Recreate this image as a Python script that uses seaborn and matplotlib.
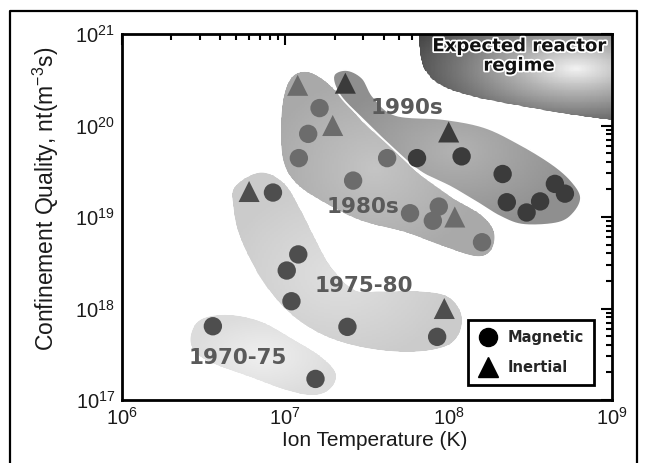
import numpy as np
import pandas as pd
import matplotlib
matplotlib.use("Agg")
import matplotlib.pyplot as plt
import seaborn as sns
from matplotlib.lines import Line2D
from matplotlib.patches import Polygon
from matplotlib.colors import LinearSegmentedColormap
import matplotlib.patheffects as pe
from matplotlib import font_manager

# data
era = (["1970-75"] * 2 + ["1975-80"] * 8 + ["1980s"] * 12 + ["1990s"] * 10)
kind = ["Magnetic", "Magnetic",
        "Inertial", "Magnetic", "Magnetic", "Magnetic", "Magnetic", "Magnetic", "Magnetic", "Inertial",
        "Inertial", "Magnetic", "Magnetic", "Inertial", "Magnetic", "Magnetic", "Magnetic", "Magnetic",
        "Magnetic", "Magnetic", "Inertial", "Magnetic",
        "Inertial", "Magnetic", "Magnetic", "Inertial", "Magnetic", "Magnetic", "Magnetic", "Magnetic",
        "Magnetic", "Magnetic"]
temp = [3.6e6, 1.53e7,
        6.0e6, 8.4e6, 1.2e7, 1.02e7, 1.09e7, 2.4e7, 8.5e7, 9.4e7,
        1.19e7, 1.62e7, 1.38e7, 1.95e7, 1.21e7, 2.6e7, 4.2e7, 5.8e7, 8.0e7, 8.7e7, 1.09e8, 1.6e8,
        2.33e7, 6.4e7, 1.2e8, 1.0e8, 2.14e8, 2.27e8, 3.0e8, 3.63e8, 4.47e8, 5.15e8]
ntau = [6.4e17, 1.7e17,
        1.9e19, 1.85e19, 3.9e18, 2.6e18, 1.2e18, 6.3e17, 4.9e17, 1.0e18,
        2.75e20, 1.55e20, 8.1e19, 1.0e20, 4.4e19, 2.5e19, 4.4e19, 1.1e19, 9.1e18, 1.3e19, 1.0e19, 5.3e18,
        2.9e20, 4.4e19, 4.6e19, 8.5e19, 2.95e19, 1.45e19, 1.12e19, 1.48e19, 2.3e19, 1.8e19]

# shaded era regions, outlines in log10 units (T, n*tau)
blob_u = {
    "1970-75": [6.421, 6.479, 6.642, 6.847, 7.051, 7.215, 7.307, 7.276, 7.174, 7.010, 6.785, 6.560, 6.448],
    "1975-80": [6.693, 6.847, 6.990, 7.092, 7.174, 7.276, 7.419, 7.583, 7.828, 7.992, 8.074, 8.063, 7.971,
                7.747, 7.460, 7.215, 7.010, 6.847, 6.724, 6.683],
    "1980s": [6.994, 7.043, 7.123, 7.215, 7.319, 7.479, 7.644, 7.810, 8.012, 8.196, 8.276, 8.258, 8.166,
              7.951, 7.736, 7.460, 7.215, 7.061, 6.988, 6.975],
    "1990s": [7.294, 7.374, 7.472, 7.540, 7.675, 7.969, 8.215, 8.423, 8.626, 8.748, 8.810, 8.767, 8.669,
              8.460, 8.319, 8.178, 8.012, 7.828, 7.656, 7.491, 7.337],
}
blob_v = {
    "1970-75": [17.692, 17.874, 17.929, 17.856, 17.656, 17.473, 17.292, 17.128, 17.055, 17.109, 17.255,
                17.401, 17.528],
    "1975-80": [19.331, 19.484, 19.368, 19.077, 18.785, 18.457, 18.202, 18.184, 18.184, 18.129, 17.948,
                17.729, 17.583, 17.528, 17.583, 17.729, 17.984, 18.348, 18.785, 19.113],
    "1980s": [20.333, 20.530, 20.585, 20.519, 20.355, 20.027, 19.765, 19.481, 19.219, 19.022, 18.836,
              18.639, 18.574, 18.694, 18.836, 18.967, 19.186, 19.383, 19.623, 20.005],
    "1990s": [20.541, 20.607, 20.519, 20.311, 20.115, 20.071, 19.984, 19.809, 19.590, 19.404, 19.219,
              19.044, 18.934, 18.913, 19.000, 19.153, 19.328, 19.492, 19.754, 20.038, 20.322],
}
blob_inner = {"1970-75": "#efefef", "1975-80": "#e0e0e0", "1980s": "#c4c4c4", "1990s": "#b2b2b2"}
blob_outer = {"1970-75": "#dcdcdc", "1975-80": "#cbcbcb", "1980s": "#a9a9a9", "1990s": "#8f8f8f"}
point_color = {"1970-75": "#4e4e4e", "1975-80": "#4e4e4e", "1980s": "#6c6c6c", "1990s": "#3b3b3b"}

reactor_u = [7.816, 7.818, 7.828, 7.869, 7.971, 8.155, 8.462, 8.769, 9.006, 9.117, 9.117]
reactor_v = [21.153, 21.008, 20.752, 20.570, 20.424, 20.315, 20.206, 20.115, 20.060, 20.049, 21.153]

label_text = ["1990s", "1980s", "1975-80", "1970-75"]
label_x = [5.52e7, 2.97e7, 3.01e7, 5.08e6]
label_y = [1.55e20, 1.29e19, 1.76e18, 2.88e17]


def smooth_closed(u, v, n=24):
    p = np.column_stack([u, v])
    m = len(p)
    t = np.linspace(0, 1, n, endpoint=False)[:, None]
    out = []
    for i in range(m):
        p0, p1, p2, p3 = p[i - 1], p[i], p[(i + 1) % m], p[(i + 2) % m]
        out.append(0.5 * (2 * p1 + (-p0 + p2) * t + (2 * p0 - 5 * p1 + 4 * p2 - p3) * t ** 2
                          + (-p0 + 3 * p1 - 3 * p2 + p3) * t ** 3))
    out = np.vstack(out)
    return out[:, 0], out[:, 1]


df = pd.DataFrame({"T": temp, "nt": ntau, "era": era, "kind": kind})

sns.set_theme(style="white")
names = {f.name for f in font_manager.fontManager.ttflist}
main_font = "Liberation Sans" if "Liberation Sans" in names else "DejaVu Sans"
plt.rcParams["font.family"] = [main_font, "DejaVu Sans"]
plt.rcParams["mathtext.fontset"] = "custom"
plt.rcParams["mathtext.rm"] = main_font

fig = plt.figure(figsize=(6.47, 4.63), dpi=100)
ax = fig.add_axes([122 / 647, 1 - 400 / 463, 490 / 647, 366 / 463])
ax.set_xscale("log")
ax.set_yscale("log")
ax.set_xlim(1e6, 1e9)
ax.set_ylim(1e17, 1e21)

# era regions with a soft shading toward the middle
for i, name in enumerate(["1970-75", "1975-80", "1980s", "1990s"]):
    su, sv = smooth_closed(blob_u[name], blob_v[name])
    z = 1 + 0.1 * i
    poly = Polygon(np.column_stack([10 ** su, 10 ** sv]), closed=True, facecolor=blob_outer[name],
                   edgecolor="none", zorder=z, transform=ax.transData)
    ax.add_patch(poly)
    uc, vc = np.mean(su), np.mean(sv)
    hu, hv = np.ptp(su) / 2, np.ptp(sv) / 2
    U, V = np.meshgrid(np.linspace(su.min(), su.max(), 120), np.linspace(sv.min(), sv.max(), 120))
    d = np.clip(np.sqrt(((U - uc) / hu) ** 2 + ((V - vc) / hv) ** 2), 0, 1)
    cm = LinearSegmentedColormap.from_list(name, [blob_inner[name], blob_outer[name]])
    m = ax.pcolormesh(10 ** U, 10 ** V, d, cmap=cm, vmin=0, vmax=1, shading="auto", zorder=z)
    m.set_clip_path(poly)
    if name == "1990s":
        ax.plot(10 ** np.append(su, su[0]), 10 ** np.append(sv, sv[0]), color="white", lw=1.3,
                zorder=z + 0.01)

# reactor regime with a shaded gradient
ru, rv = smooth_closed(reactor_u, reactor_v, n=16)
clip = Polygon(np.column_stack([10 ** ru, 10 ** rv]), closed=True, facecolor="none", edgecolor="none",
               transform=ax.transData)
ax.add_patch(clip)
U, V = np.meshgrid(np.linspace(7.7, 9.2, 200), np.linspace(19.9, 21.3, 150))
d = np.sqrt(((U - 8.78) * 163 / 80) ** 2 + ((V - 20.62) * 91.5 / 32) ** 2)
cmap = LinearSegmentedColormap.from_list("reg", ["#f2f2f2", "#b0b0b0", "#777777", "#444444"])
mesh = ax.pcolormesh(10 ** U, 10 ** V, np.clip(d, 0, 2.2), cmap=cmap, vmin=0, vmax=2.2,
                     shading="auto", zorder=1)
mesh.set_clip_path(clip)

sns.scatterplot(data=df, x="T", y="nt", hue="era", style="kind", size="kind",
                markers={"Magnetic": "o", "Inertial": "^"},
                sizes={"Magnetic": 175, "Inertial": 230},
                palette=point_color, linewidth=0, legend=False, ax=ax, zorder=3)

for t, x, y in zip(label_text, label_x, label_y):
    ax.text(x, y, t, ha="center", va="center", fontsize=15.5, fontweight="bold",
            family="DejaVu Sans", color="#5a5a5a", zorder=4)

ax.text(2.69e8, 5.75e20, "Expected reactor\nregime", ha="center", va="center", fontsize=13,
        fontweight="bold", family="DejaVu Sans", color="#111111", linespacing=1.1, zorder=4,
        path_effects=[pe.withStroke(linewidth=2.5, foreground="white")])

ax.set_xlabel("Ion Temperature (K)", fontsize=15, color="#1a1a1a")
ax.set_ylabel(r"Confinement Quality, nt(m$^{\mathdefault{-3}}$s)", fontsize=16.5, color="#1a1a1a")
ax.xaxis.set_label_coords(0.516, -0.085)
ax.yaxis.set_label_coords(-0.125, 0.55)
ax.tick_params(which="both", direction="in", top=True, right=True, width=1.5, colors="black",
               labelsize=14.5, labelcolor="#1a1a1a")
ax.tick_params(which="major", length=8, pad=5)
ax.tick_params(which="minor", length=4.5)
for s in ax.spines.values():
    s.set_linewidth(2)
    s.set_color("black")

handles = [Line2D([], [], marker="o", color="black", ls="", markersize=13),
           Line2D([], [], marker="^", color="black", ls="", markersize=14)]
leg = ax.legend(handles, ["Magnetic", "Inertial"], loc="lower right", bbox_to_anchor=(0.963, 0.041),
                borderaxespad=0, frameon=True, fancybox=False, framealpha=1, edgecolor="black",
                prop={"family": "DejaVu Sans", "weight": "bold", "size": 10.5},
                handletextpad=0.7, labelspacing=1.0, borderpad=0.7, handlelength=1.3)
leg.get_frame().set_linewidth(2)
leg.set_zorder(5)

fig.add_artist(Line2D([10 / 647, 10 / 647, 637 / 647, 637 / 647], [0, 1 - 11 / 463, 1 - 11 / 463, 0],
                      transform=fig.transFigure, color="black", lw=1.6))

fig.savefig("out.png", dpi=100)
